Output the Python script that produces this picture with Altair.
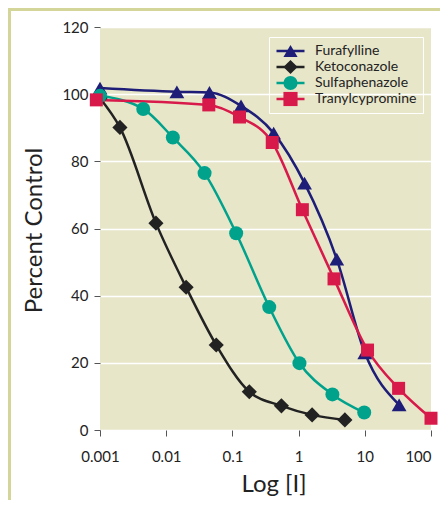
import altair as alt
import pandas as pd

# ---- data ----
series_names = ["Furafylline", "Ketoconazole", "Sulfaphenazole", "Tranylcypromine"]
series_colors = ["#1e1e78", "#222222", "#00a28c", "#d81a4a"]
series_shapes = ["triangle-up", "diamond", "circle", "square"]
series_sizes = [220, 230, 196, 169]

fura_x = [0.001, 0.0145, 0.045, 0.135, 0.42, 1.23, 3.77, 10.0, 33.0]
fura_y = [101.8, 100.7, 100.5, 96.5, 88.4, 73.5, 50.9, 23.0, 7.5]

keto_x = [0.001, 0.002, 0.007, 0.02, 0.057, 0.18, 0.55, 1.6, 5.0]
keto_y = [98.8, 90.1, 61.6, 42.5, 25.3, 11.4, 7.2, 4.5, 3.0]

sulfa_x = [0.001, 0.0045, 0.0126, 0.038, 0.114, 0.36, 1.03, 3.24, 9.8]
sulfa_y = [99.5, 95.6, 87.1, 76.5, 58.6, 36.6, 19.9, 10.6, 5.2]

tranyl_x = [0.00088, 0.044, 0.128, 0.4, 1.14, 3.43, 11.0, 32.4, 100.0]
tranyl_y = [98.3, 96.8, 93.2, 85.6, 65.6, 45.0, 23.8, 12.4, 3.5]

x_ticks = [0.001, 0.01, 0.1, 1, 10, 100]
y_ticks = [0, 20, 40, 60, 80, 100, 120]

rows = []
for name, xs, ys in zip(series_names,
                        [fura_x, keto_x, sulfa_x, tranyl_x],
                        [fura_y, keto_y, sulfa_y, tranyl_y]):
    for i, (xv, yv) in enumerate(zip(xs, ys)):
        rows.append({"series": name, "series2": name, "series3": name,
                     "x": xv, "y": yv, "order": i})
df = pd.DataFrame(rows)

FONT = "Lato"
TXT = "#222222"

x_enc = alt.X("x:Q",
              scale=alt.Scale(type="log", domain=[0.001, 100]),
              axis=alt.Axis(values=x_ticks, format="~g", grid=False, domain=False,
                            tickSize=6, tickColor="#555555", labelPadding=13,
                            labelAlign=alt.expr("datum.value == 100 ? 'right' : 'center'"),
                            labelFont=FONT, labelFontSize=15, labelColor=TXT,
                            title="Log [I]", titleFont=FONT, titleFontSize=24,
                            titleFontWeight="normal", titleColor=TXT,
                            titleX=173.5, titleY=61, titleBaseline="alphabetic"))
y_enc = alt.Y("y:Q",
              scale=alt.Scale(domain=[0, 120]),
              axis=alt.Axis(values=y_ticks, grid=True, gridColor="white", gridWidth=1.5,
                            domain=False, tickSize=6, tickColor="#555555", labelPadding=6,
                            labelFont=FONT, labelFontSize=15, labelColor=TXT,
                            title="Percent Control", titleFont=FONT, titleFontSize=24,
                            titleFontWeight="normal", titleColor=TXT,
                            titleX=-59, titleY=203, titleBaseline="alphabetic"))

line_legend = alt.Legend(orient="none", legendX=169, legendY=10, title=None,
                         symbolType="stroke", symbolSize=784, symbolStrokeWidth=2.5,
                         clipHeight=16, rowPadding=0, padding=6, labelOffset=9,
                         labelFont=FONT, labelFontSize=14, labelColor=TXT,
                         strokeColor="white")
marker_legend = alt.Legend(orient="none", legendX=169, legendY=10, title=None,
                           symbolSize=200, symbolStrokeWidth=0, symbolOffset=8,
                           clipHeight=16, rowPadding=0, padding=6, labelOffset=9,
                           labelFont=FONT, labelFontSize=14, labelExpr="''")

frame = alt.Chart(pd.DataFrame({"k": [0]})).mark_rect(
    fillOpacity=0, stroke="#d4d699", strokeWidth=3
).encode(x=alt.value(-90.5), x2=alt.value(500), y=alt.value(-17.5), y2=alt.value(600))

lines = alt.Chart(df).mark_line(interpolate="monotone", strokeWidth=2.5).encode(
    x=x_enc, y=y_enc, order="order:Q",
    stroke=alt.Stroke("series2:N", scale=alt.Scale(range=series_colors),
                      legend=line_legend),
)

points = alt.Chart(df).mark_point(filled=True, opacity=1).encode(
    x=x_enc, y=y_enc,
    fill=alt.Fill("series:N", scale=alt.Scale(domain=series_names, range=series_colors),
                  legend=marker_legend),
    shape=alt.Shape("series:N", scale=alt.Scale(domain=series_names, range=series_shapes),
                    legend=marker_legend),
    size=alt.Size("series3:N", scale=alt.Scale(type="ordinal", range=series_sizes),
                  legend=None),
)

chart = alt.layer(frame, lines, points).properties(
    width=331, height=403,
    autosize=alt.AutoSizeParams(type="none"),
    padding={"left": 92, "top": 19, "right": 9, "bottom": 70},
    background="white",
).configure_view(fill="#e7e6c9", stroke=None)

chart.save("out.html", embed_options={"renderer": "svg", "actions": False})
